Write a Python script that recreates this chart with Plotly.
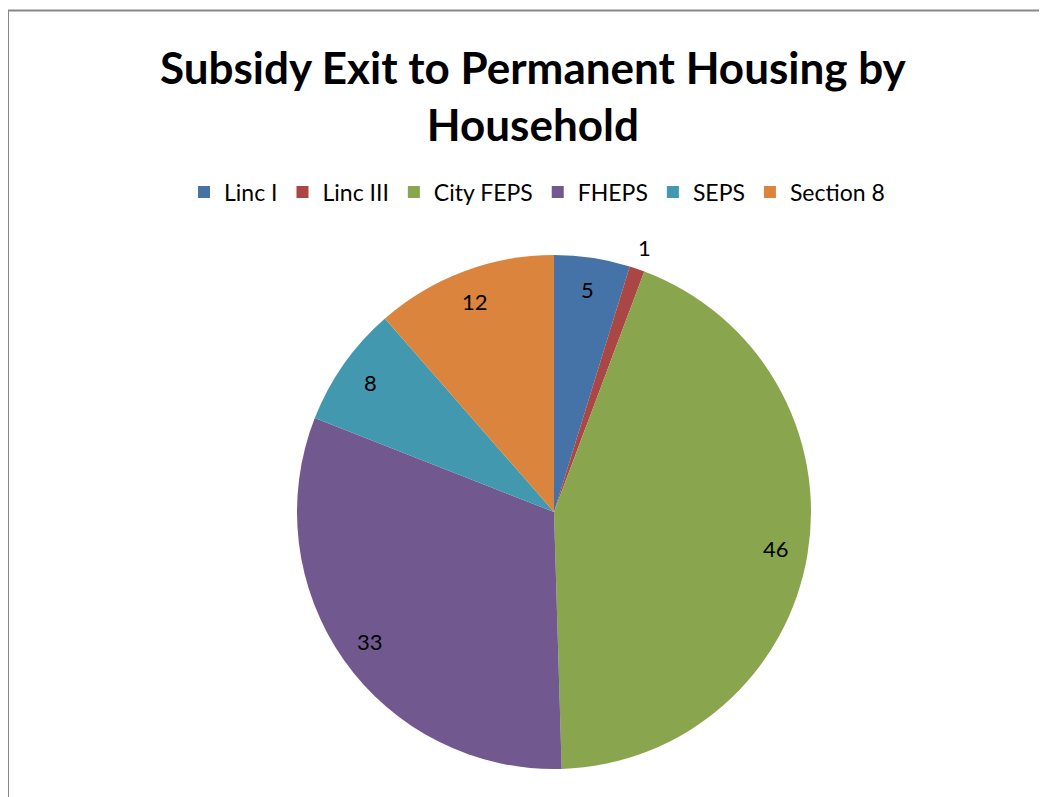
import math
import plotly.graph_objects as go

categories = ["Linc I", "Linc III", "City FEPS", "FHEPS", "SEPS", "Section 8"]
values = [5, 1, 46, 33, 8, 12]
colors = ["#4572A7", "#AA4643", "#89A54E", "#71588F", "#4198AF", "#DB843D"]
title_text = "Subsidy Exit to Permanent Housing by<br>Household"

W, H = 1047, 797
OFF = 8  # browser body margin offset
FONT = "Lato"

# pie geometry in pixels (margins 0 => paper == pixels)
cx_px, cy_px, R = 554 - OFF, 512 - OFF, 257
dom_x = [(cx_px - R) / W, (cx_px + R) / W]
dom_y = [1 - (cy_px + R) / H, 1 - (cy_px - R) / H]

fig = go.Figure()
fig.add_trace(go.Pie(
    labels=categories,
    values=values,
    sort=False,
    direction="clockwise",
    rotation=0,
    marker=dict(colors=colors, line=dict(width=0)),
    textinfo="none",
    hoverinfo="label+value",
    domain=dict(x=dom_x, y=dom_y),
))

# data labels placed from the values (best-fit style near the rim)
total = sum(values)
cum = 0
annotations = []
for cat, v in zip(categories, values):
    mid = (cum + v / 2) / total * 2 * math.pi
    cum += v
    frac = v / total
    r = 1.086 * R if frac < 0.02 else 0.875 * R
    px = cx_px + r * math.sin(mid)
    py = cy_px - r * math.cos(mid)
    annotations.append(dict(
        x=px / W, y=1 - py / H, xref="paper", yref="paper",
        text=str(v), showarrow=False, xanchor="center", yanchor="middle",
        font=dict(family=FONT, size=22, color="black"),
    ))

annotations.append(dict(
    x=(533 - OFF) / W, y=1 - (95 - OFF) / H, xref="paper", yref="paper",
    text="<b>" + title_text.replace("<br>", "</b><br><b>") + "</b>",
    showarrow=False, xanchor="center", yanchor="middle",
    font=dict(family=FONT, size=44, color="black"),
))

fig.update_layout(
    width=W, height=H,
    margin=dict(l=0, r=0, t=0, b=0),
    paper_bgcolor="white",
    plot_bgcolor="white",
    showlegend=True,
    legend=dict(
        orientation="h",
        x=(537 - OFF) / W, xanchor="center",
        y=1 - (192 - OFF) / H, yanchor="middle",
        font=dict(family=FONT, size=23, color="black"),
        traceorder="normal",
        itemwidth=30,
    ),
    annotations=annotations,
    shapes=[dict(
        type="rect", xref="paper", yref="paper",
        x0=(7.5 - OFF + 0.5) / W, x1=1.05, y0=-0.05, y1=1 - (10.5 - OFF) / H,
        line=dict(color="#878787", width=2), fillcolor="rgba(0,0,0,0)",
        layer="above",
    )],
)

fig.write_html("out.html")
